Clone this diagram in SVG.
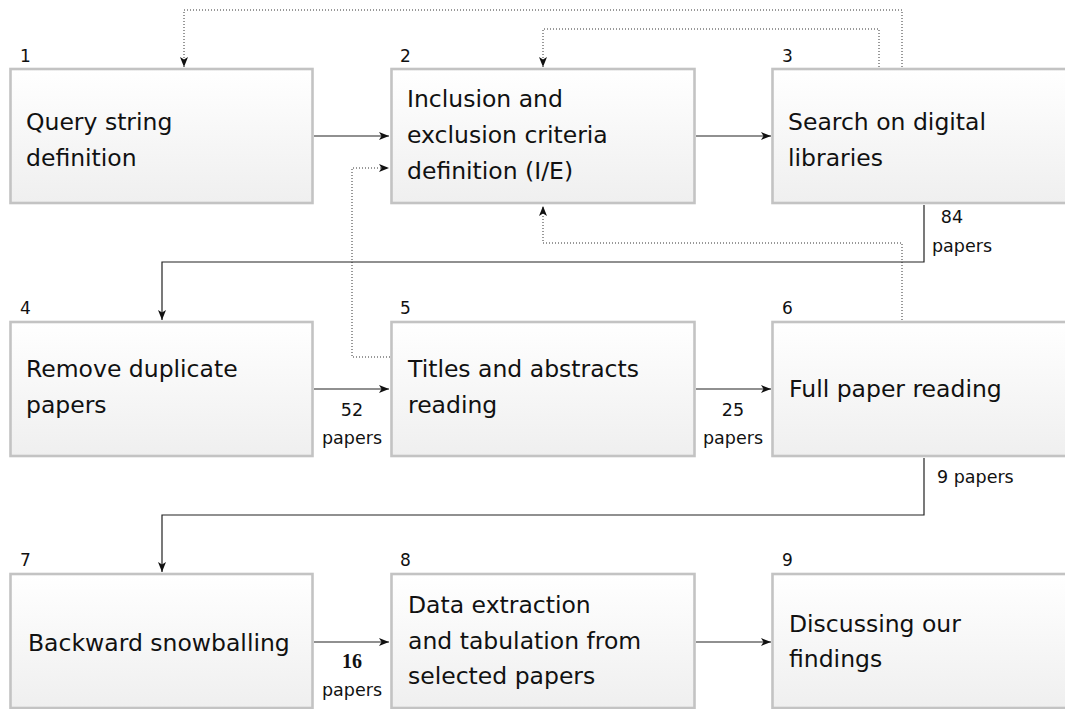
<svg xmlns="http://www.w3.org/2000/svg" width="1065" height="709" viewBox="0 0 1065 709">
<defs>
<linearGradient id="g" x1="0" y1="0" x2="0" y2="1">
<stop offset="0" stop-color="#ffffff"/>
<stop offset="1" stop-color="#efefef"/>
</linearGradient>
<marker id="ah" markerUnits="userSpaceOnUse" markerWidth="11" markerHeight="9" refX="10" refY="4.5" orient="auto">
<path d="M0,0.5 L10,4.5 L0,8.5 L2.5,4.5 z" fill="#111"/>
</marker>
<style>
.box{fill:url(#g);stroke:#c3c3c3;stroke-width:2.6}
.t{font-family:"DejaVu Sans",sans-serif;font-size:23.5px;fill:#111}
.n{font-family:"DejaVu Sans",sans-serif;font-size:17px;fill:#111}
.l{font-family:"DejaVu Sans",sans-serif;font-size:17.5px;fill:#111}
.b{font-family:"Liberation Serif","DejaVu Serif",serif;font-size:20px;font-weight:bold;fill:#111}
.s{fill:none;stroke:#222;stroke-width:1.2}
.d{fill:none;stroke:#333;stroke-width:1;stroke-dasharray:1 2}
</style>
</defs>
<g id="connectors">
<path class="s" d="M314,136 H389" marker-end="url(#ah)"/>
<path class="s" d="M696,136 H771" marker-end="url(#ah)"/>
<path class="d" d="M902,67 V10 H184 V67" marker-end="url(#ah)"/>
<path class="d" d="M879,67 V29 H543 V67" marker-end="url(#ah)"/>
<path class="d" d="M902,320 V243 H543 V206" marker-end="url(#ah)"/>
<path class="d" d="M390,357 H352 V168 H389" marker-end="url(#ah)"/>
<path class="s" d="M924,205 V262 H162 V320" marker-end="url(#ah)"/>
<path class="s" d="M314,389 H389" marker-end="url(#ah)"/>
<path class="s" d="M696,389 H771" marker-end="url(#ah)"/>
<path class="s" d="M924,458 V515 H162 V572" marker-end="url(#ah)"/>
<path class="s" d="M314,642 H389" marker-end="url(#ah)"/>
<path class="s" d="M696,642 H771" marker-end="url(#ah)"/>
<text class="l" x="952" y="223" text-anchor="middle">84</text>
<text class="l" x="962" y="252" text-anchor="middle">papers</text>
<text class="l" x="352" y="416" text-anchor="middle">52</text>
<text class="l" x="352" y="444" text-anchor="middle">papers</text>
<text class="l" x="733" y="416" text-anchor="middle">25</text>
<text class="l" x="733" y="444" text-anchor="middle">papers</text>
<text class="l" x="937" y="483">9 papers</text>
<text class="b" x="352" y="668" text-anchor="middle">16</text>
<text class="l" x="352" y="696" text-anchor="middle">papers</text>
</g>
<g id="node1">
<rect class="box" x="10.5" y="69" width="302" height="134"/>
<text class="n" x="20" y="62">1</text>
<text class="t" x="26" y="130">Query string</text>
<text class="t" x="26" y="166">definition</text>
</g>
<g id="node2">
<rect class="box" x="391.5" y="69" width="303" height="134"/>
<text class="n" x="400" y="62">2</text>
<text class="t" x="407" y="107">Inclusion and</text>
<text class="t" x="407" y="143">exclusion criteria</text>
<text class="t" x="407" y="179">definition (I/E)</text>
</g>
<g id="node3">
<rect class="box" x="772.5" y="69" width="303" height="134"/>
<text class="n" x="782" y="62">3</text>
<text class="t" x="788" y="130">Search on digital</text>
<text class="t" x="788" y="166">libraries</text>
</g>
<g id="node4">
<rect class="box" x="10.5" y="322" width="302" height="134"/>
<text class="n" x="20" y="314">4</text>
<text class="t" x="26" y="377">Remove duplicate</text>
<text class="t" x="26" y="413">papers</text>
</g>
<g id="node5">
<rect class="box" x="391.5" y="322" width="303" height="134"/>
<text class="n" x="400" y="314">5</text>
<text class="t" x="408" y="377">Titles and abstracts</text>
<text class="t" x="408" y="413">reading</text>
</g>
<g id="node6">
<rect class="box" x="772.5" y="322" width="303" height="134"/>
<text class="n" x="782" y="314">6</text>
<text class="t" x="789" y="397">Full paper reading</text>
</g>
<g id="node7">
<rect class="box" x="10.5" y="574" width="302" height="134"/>
<text class="n" x="20" y="566">7</text>
<text class="t" x="28" y="651">Backward snowballing</text>
</g>
<g id="node8">
<rect class="box" x="391.5" y="574" width="303" height="134"/>
<text class="n" x="400" y="566">8</text>
<text class="t" x="408" y="613">Data extraction</text>
<text class="t" x="408" y="649">and tabulation from</text>
<text class="t" x="408" y="684">selected papers</text>
</g>
<g id="node9">
<rect class="box" x="772.5" y="574" width="303" height="134"/>
<text class="n" x="782" y="566">9</text>
<text class="t" x="789" y="632">Discussing our</text>
<text class="t" x="789" y="667">findings</text>
</g>
</svg>
